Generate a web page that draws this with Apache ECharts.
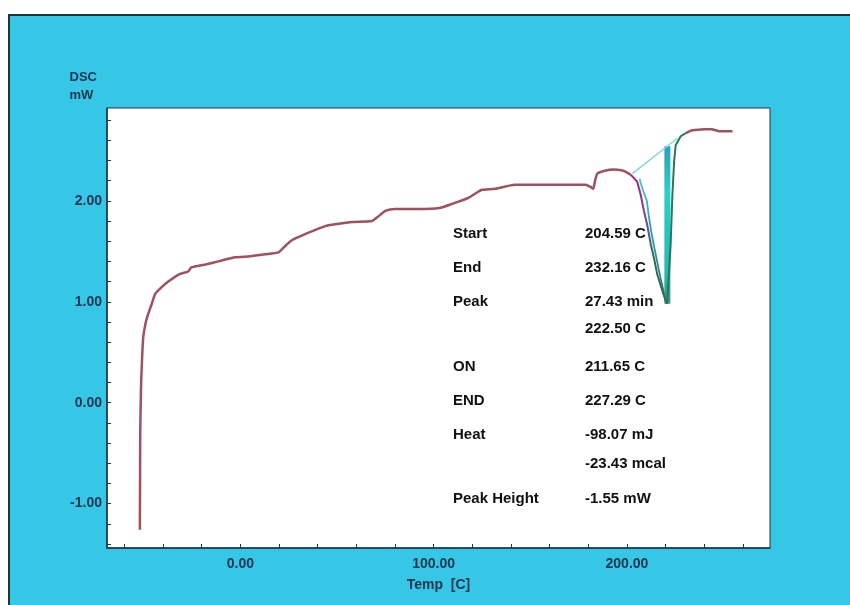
<!DOCTYPE html>
<html>
<head>
<meta charset="utf-8">
<script src="https://cdn.jsdelivr.net/npm/echarts@6.0.0/dist/echarts.min.js"></script>
<style>
  html, body { margin: 0; padding: 0; background: #fff; }
  #frame {
    position: absolute; left: 8px; top: 14px; width: 842px; height: 591px;
    background: #36c6e6; border-top: 2px solid #1d3440; border-left: 2px solid #1d3440;
    box-sizing: border-box;
  }
  #main { position: absolute; left: 0; top: 0; width: 850px; height: 605px; }
</style>
</head>
<body>
<div id="frame"></div>
<div id="main"></div>
<script>
// DSC trace (temp C / mW)
var curveT = [-52, -51.9, -51.8, -51.5, -51.3, -50.3, -48.9, -47.7, -46, -44, -41, -37.3, -32, -27, -25.4, -18, -11.4, -2.7, 5, 12.8, 19.7, 22, 26.6, 33.5, 43.9, 50, 57.7, 68, 71, 75, 80, 92, 103, 109.5, 118, 123, 125, 132, 142, 150, 165, 178.6, 181, 182.5, 183.5, 184.7, 189, 193, 197.6, 200, 201.9];
var curveV = [-1.26, -0.8, -0.28, 0.05, 0.22, 0.64, 0.80, 0.88, 0.97, 1.08, 1.14, 1.20, 1.27, 1.30, 1.34, 1.37, 1.40, 1.44, 1.45, 1.47, 1.49, 1.53, 1.61, 1.67, 1.75, 1.77, 1.79, 1.80, 1.84, 1.90, 1.92, 1.92, 1.93, 1.97, 2.03, 2.09, 2.11, 2.12, 2.16, 2.16, 2.16, 2.16, 2.14, 2.12, 2.20, 2.27, 2.30, 2.31, 2.30, 2.28, 2.26];

// melting peak, falling side
var fallT = [201.9, 205.3, 207.1, 208.8, 210.5, 212.3, 214.0, 215.7, 218.3, 220.0, 220.7];
var fallV = [2.26, 2.19, 2.06, 1.90, 1.76, 1.57, 1.43, 1.27, 1.11, 1.01, 0.98];
// second (offset) trace on the falling side
var fall2T = [206.5, 208.0, 210.3, 211.3, 212.5, 214.0, 215.6, 217.2, 219.0, 220.4];
var fall2V = [2.22, 2.12, 2.00, 1.85, 1.70, 1.55, 1.40, 1.25, 1.10, 1.00];
// rising side
var riseT = [220.7, 221.5, 222.6, 223.5, 224.4, 225.2, 227.8, 230.4];
var riseV = [0.98, 1.20, 1.57, 2.06, 2.39, 2.55, 2.64, 2.67];
// after the peak
var tailT = [230.4, 233.7, 240, 244, 247.7, 254.6];
var tailV = [2.67, 2.70, 2.71, 2.71, 2.69, 2.69];

// baseline and peak height marker
var baseT = [202.8, 226.1];
var baseV = [2.27, 2.62];
var heightT = [220.9, 220.9];
var heightV = [0.98, 2.54];

var yLabels = [-1, 0, 1, 2];
var xLabels = [0, 100, 200];
var yTicks = [-1.4, -1.2, -1, -0.8, -0.6, -0.4, -0.2, 0, 0.2, 0.4, 0.6, 0.8, 1, 1.2, 1.4, 1.6, 1.8, 2, 2.2, 2.4, 2.6, 2.8];
var xTicks = [-60, -40, -20, 0, 20, 40, 60, 80, 100, 120, 140, 160, 180, 200, 220, 240, 260];

var infoNames = ['Start', 'End', 'Peak', '', 'ON', 'END', 'Heat', '', 'Peak Height'];
var infoValues = ['204.59 C', '232.16 C', '27.43 min', '222.50 C', '211.65 C', '227.29 C', '-98.07 mJ', '-23.43 mcal', '-1.55 mW'];
var infoRowsY = [234, 268, 302, 329, 367, 401, 435, 464, 499];

function pairs(xs, ys) {
  var out = [];
  for (var i = 0; i < xs.length; i++) out.push([xs[i], ys[i]]);
  return out;
}

var axisColor = '#1c3550';
var textGraphics = [];
for (var i = 0; i < infoNames.length; i++) {
  textGraphics.push({
    type: 'text', left: 453, top: infoRowsY[i] - 8,
    style: { text: infoNames[i], fill: '#111', font: 'bold 15px "Liberation Sans", Arial, sans-serif' }
  });
  textGraphics.push({
    type: 'text', left: 585, top: infoRowsY[i] - 8,
    style: { text: infoValues[i], fill: '#111', font: 'bold 15px "Liberation Sans", Arial, sans-serif' }
  });
}

var chart = echarts.init(document.getElementById('main'), null, { renderer: 'canvas' });
chart.setOption({
  backgroundColor: 'transparent',
  animation: false,
  grid: {
    left: 107, right: 80, top: 108, bottom: 57,
    show: true, backgroundColor: '#ffffff', borderColor: axisColor, borderWidth: 1
  },
  xAxis: {
    type: 'value', min: -69, max: 274,
    name: 'Temp  [C]', nameLocation: 'middle', nameGap: 30,
    nameTextStyle: { color: axisColor, fontSize: 14, fontWeight: 'bold', fontFamily: 'Liberation Sans' },
    axisLine: { onZero: false, lineStyle: { color: axisColor, width: 1.5 } },
    axisTick: { inside: true, length: 4, customValues: xTicks, lineStyle: { color: axisColor } },
    axisLabel: {
      customValues: xLabels, margin: 9, color: axisColor, fontSize: 14, fontWeight: 'bold', fontFamily: 'Liberation Sans',
      formatter: function (v) { return v.toFixed(2); }
    },
    splitLine: { show: false }
  },
  yAxis: {
    type: 'value', min: -1.44, max: 2.92,
    name: 'DSC\nmW ', nameLocation: 'end', nameGap: 4,
    nameTextStyle: { color: axisColor, fontSize: 13, fontWeight: 'bold', fontFamily: 'Liberation Sans', align: 'right', verticalAlign: 'bottom', lineHeight: 18, padding: [0, 10, 0, 0] },
    axisLine: { show: true, onZero: false, lineStyle: { color: axisColor, width: 1.5 } },
    axisTick: { show: true, inside: true, length: 4, customValues: yTicks, lineStyle: { color: axisColor } },
    axisLabel: {
      customValues: yLabels, margin: 5, color: axisColor, fontSize: 14, fontWeight: 'bold', fontFamily: 'Liberation Sans',
      formatter: function (v) { return v.toFixed(2); }
    },
    splitLine: { show: false }
  },
  graphic: textGraphics,
  series: [
    {
      type: 'line', data: pairs(curveT, curveV), showSymbol: false, smooth: 0.2,
      lineStyle: { color: '#a0505f', width: 2.5 }, z: 3
    },
    {
      type: 'line', data: pairs(fall2T, fall2V), showSymbol: false,
      lineStyle: {
        width: 1.8,
        color: new echarts.graphic.LinearGradient(0, 0, 0, 1, [
          { offset: 0, color: '#40cce0' }, { offset: 0.4, color: '#2aa0b0' }, { offset: 1, color: '#2a7a6a' }
        ])
      }, z: 2
    },
    {
      type: 'line', data: pairs(heightT, heightV), showSymbol: false,
      lineStyle: {
        width: 6,
        color: new echarts.graphic.LinearGradient(0, 0, 0, 1, [
          { offset: 0, color: '#2e9ab8' }, { offset: 0.3, color: '#2cd0cc' }, { offset: 0.8, color: '#26b8b0' }, { offset: 1, color: '#4a8a80' }
        ])
      }, z: 2
    },
    {
      type: 'line', data: pairs(baseT, baseV), showSymbol: false,
      lineStyle: { color: '#7cd6ee', width: 1.5 }, z: 2
    },
    {
      type: 'line', data: pairs(fallT, fallV), showSymbol: false,
      lineStyle: {
        width: 2,
        color: new echarts.graphic.LinearGradient(0, 0, 0, 1, [
          { offset: 0, color: '#b01c7c' }, { offset: 0.25, color: '#8a3a9c' },
          { offset: 0.45, color: '#4f5a9a' }, { offset: 0.6, color: '#2f6a5a' }, { offset: 1, color: '#2f6a5a' }
        ])
      }, z: 4
    },
    {
      type: 'line', data: pairs(riseT, riseV), showSymbol: false,
      lineStyle: { color: '#217a5c', width: 2 }, z: 4
    },
    {
      type: 'line', data: pairs(tailT, tailV), showSymbol: false,
      lineStyle: { color: '#a0505f', width: 2.5 }, z: 3
    }
  ]
});
</script>
</body>
</html>
